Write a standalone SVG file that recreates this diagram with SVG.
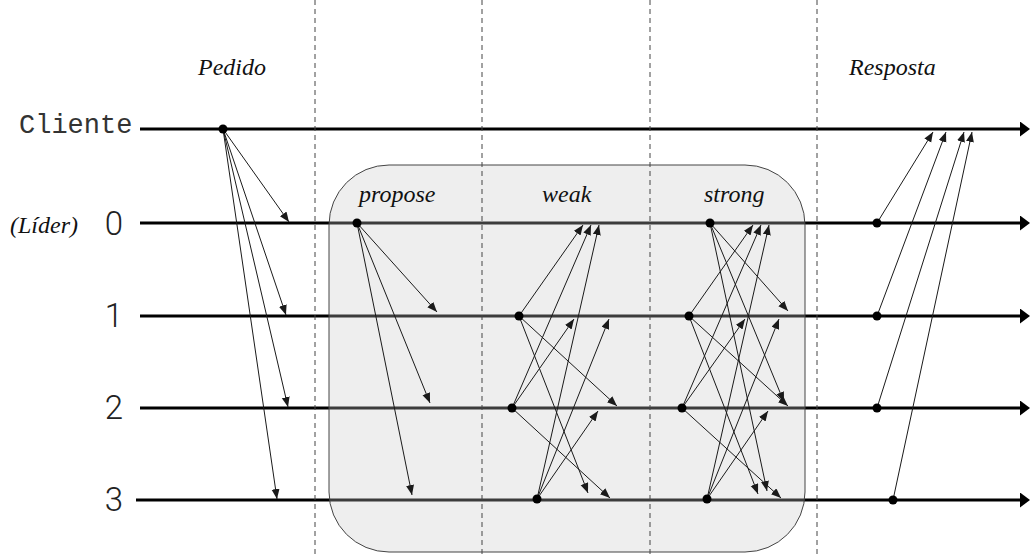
<svg xmlns="http://www.w3.org/2000/svg" width="1030" height="557" viewBox="0 0 1030 557">
  <style>
    .axis { stroke: #000; stroke-width: 3; fill: none; }
    .msg { stroke: #1a1a1a; stroke-width: 1; fill: none; }
    .sep { stroke: #444; stroke-width: 1; stroke-dasharray: 5 4; }
    .dot { fill: #000; }
    .it { font-family: "Liberation Serif", "Times New Roman", serif; font-style: italic; font-size: 24px; fill: #111; }
    .mono { font-family: "Liberation Mono", "Courier New", monospace; font-size: 27px; fill: #333; }
    .num { font-family: Roboto, "Liberation Sans", Arial, sans-serif; font-weight: 300; font-size: 33px; fill: #222; text-anchor: middle; }
  </style>
  <defs>
    <marker id="head" markerUnits="userSpaceOnUse" markerWidth="11" markerHeight="9" refX="10" refY="4" orient="auto">
      <path d="M0,0 L10,4 L0,8 z" fill="#1a1a1a"/>
    </marker>
    <marker id="bighead" markerUnits="userSpaceOnUse" markerWidth="12" markerHeight="16" refX="0" refY="7.5" orient="auto">
      <path d="M0,0 L10,7.5 L0,15 z" fill="#000"/>
    </marker>
  </defs>

  <!-- process timelines -->
  <g id="timelines">
    <line class="axis" x1="140" y1="129" x2="1020" y2="129" marker-end="url(#bighead)"/>
    <line class="axis" x1="140" y1="223" x2="1020" y2="223" marker-end="url(#bighead)"/>
    <line class="axis" x1="140" y1="316" x2="1020" y2="316" marker-end="url(#bighead)"/>
    <line class="axis" x1="140" y1="408" x2="1020" y2="408" marker-end="url(#bighead)"/>
    <line class="axis" x1="136" y1="500" x2="1020" y2="500" marker-end="url(#bighead)"/>
  </g>

  <!-- consensus phase region -->
  <g id="consensus">
    <rect x="329" y="165" width="476" height="387" rx="60" ry="60" fill="#c8c8c8" fill-opacity="0.3" stroke="#444" stroke-width="1"/>
  </g>

  <!-- phase separators -->
  <g id="separators">
    <line class="sep" x1="315" y1="0" x2="315" y2="557"/>
    <line class="sep" x1="482" y1="0" x2="482" y2="557"/>
    <line class="sep" x1="650" y1="0" x2="650" y2="557"/>
    <line class="sep" x1="817" y1="0" x2="817" y2="557"/>
  </g>

  <!-- messages -->
  <g id="connectors">
    <!-- request -->
    <line class="msg" x1="223" y1="129" x2="289" y2="222" marker-end="url(#head)"/>
    <line class="msg" x1="223" y1="129" x2="286" y2="315" marker-end="url(#head)"/>
    <line class="msg" x1="223" y1="129" x2="288" y2="407" marker-end="url(#head)"/>
    <line class="msg" x1="223" y1="129" x2="277" y2="499" marker-end="url(#head)"/>
    <!-- propose -->
    <line class="msg" x1="357" y1="223" x2="437" y2="312" marker-end="url(#head)"/>
    <line class="msg" x1="357" y1="223" x2="430" y2="403" marker-end="url(#head)"/>
    <line class="msg" x1="357" y1="223" x2="412" y2="495" marker-end="url(#head)"/>
    <!-- weak -->
    <line class="msg" x1="519" y1="316" x2="583" y2="225" marker-end="url(#head)"/>
    <line class="msg" x1="519" y1="316" x2="617" y2="406" marker-end="url(#head)"/>
    <line class="msg" x1="519" y1="316" x2="588" y2="493" marker-end="url(#head)"/>
    <line class="msg" x1="512" y1="408" x2="591" y2="225" marker-end="url(#head)"/>
    <line class="msg" x1="512" y1="408" x2="574" y2="319" marker-end="url(#head)"/>
    <line class="msg" x1="512" y1="408" x2="610" y2="498" marker-end="url(#head)"/>
    <line class="msg" x1="537" y1="499" x2="599" y2="225" marker-end="url(#head)"/>
    <line class="msg" x1="537" y1="499" x2="609" y2="319" marker-end="url(#head)"/>
    <line class="msg" x1="537" y1="499" x2="598" y2="411" marker-end="url(#head)"/>
    <!-- strong -->
    <line class="msg" x1="710" y1="223" x2="788" y2="311" marker-end="url(#head)"/>
    <line class="msg" x1="710" y1="223" x2="784" y2="402" marker-end="url(#head)"/>
    <line class="msg" x1="710" y1="223" x2="767" y2="491" marker-end="url(#head)"/>
    <line class="msg" x1="689" y1="316" x2="753" y2="225" marker-end="url(#head)"/>
    <line class="msg" x1="689" y1="316" x2="788" y2="406" marker-end="url(#head)"/>
    <line class="msg" x1="689" y1="316" x2="758" y2="494" marker-end="url(#head)"/>
    <line class="msg" x1="682" y1="408" x2="761" y2="225" marker-end="url(#head)"/>
    <line class="msg" x1="682" y1="408" x2="745" y2="319" marker-end="url(#head)"/>
    <line class="msg" x1="682" y1="408" x2="781" y2="498" marker-end="url(#head)"/>
    <line class="msg" x1="707" y1="499" x2="769" y2="225" marker-end="url(#head)"/>
    <line class="msg" x1="707" y1="499" x2="779" y2="319" marker-end="url(#head)"/>
    <line class="msg" x1="707" y1="499" x2="768" y2="411" marker-end="url(#head)"/>
    <!-- reply -->
    <line class="msg" x1="877" y1="223" x2="933" y2="132" marker-end="url(#head)"/>
    <line class="msg" x1="877" y1="316" x2="946" y2="132" marker-end="url(#head)"/>
    <line class="msg" x1="877" y1="408" x2="964" y2="132" marker-end="url(#head)"/>
    <line class="msg" x1="893" y1="500" x2="972" y2="132" marker-end="url(#head)"/>
  </g>

  <!-- send events -->
  <g id="events">
    <circle class="dot" cx="223" cy="129" r="4.5"/>
    <circle class="dot" cx="357" cy="223" r="4.5"/>
    <circle class="dot" cx="519" cy="316" r="4.5"/>
    <circle class="dot" cx="512" cy="408" r="4.5"/>
    <circle class="dot" cx="537" cy="499" r="4.5"/>
    <circle class="dot" cx="710" cy="223" r="4.5"/>
    <circle class="dot" cx="689" cy="316" r="4.5"/>
    <circle class="dot" cx="682" cy="408" r="4.5"/>
    <circle class="dot" cx="707" cy="499" r="4.5"/>
    <circle class="dot" cx="877" cy="223" r="4.5"/>
    <circle class="dot" cx="877" cy="316" r="4.5"/>
    <circle class="dot" cx="877" cy="408" r="4.5"/>
    <circle class="dot" cx="893" cy="500" r="4.5"/>
  </g>

  <!-- labels -->
  <g id="labels">
    <text class="it" x="198" y="75">Pedido</text>
    <text class="it" x="849" y="75">Resposta</text>
    <text class="it" x="359" y="202">propose</text>
    <text class="it" x="542" y="202">weak</text>
    <text class="it" x="704" y="202">strong</text>
    <text class="mono" x="19" y="133">Cliente</text>
    <text class="it" x="10" y="233">(Líder)</text>
    <text class="num" x="114" y="235">0</text>
    <text class="num" x="114" y="327">1</text>
    <text class="num" x="114" y="419">2</text>
    <text class="num" x="114" y="511">3</text>
  </g>
</svg>
